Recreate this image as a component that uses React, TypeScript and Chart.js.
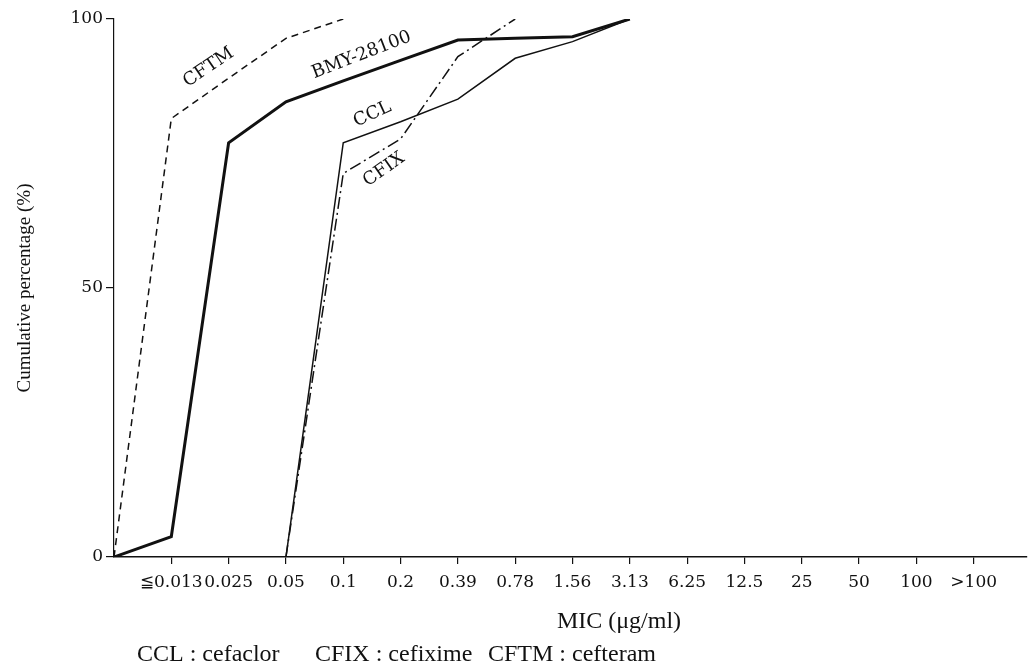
import React, { useEffect, useRef } from 'react';
import { Chart, registerables } from 'chart.js';

Chart.register(...registerables);

// MIC categories (index 0 = origin, unlabelled)
const categories: string[] = ['', '≦0.013', '0.025', '0.05', '0.1', '0.2', '0.39', '0.78', '1.56', '3.13', '6.25', '12.5', '25', '50', '100', '>100'];

// Cumulative percentage (%) per category
const bmy28100: (number | null)[] = [0, 3.8, 77.0, 84.6, 88.5, 92.3, 96.1, 96.4, 96.7, 100, null, null, null, null, null, null];
const cftm: (number | null)[] = [0, 81.5, 89.0, 96.4, 100, null, null, null, null, null, null, null, null, null, null, null];
const ccl: (number | null)[] = [null, null, null, 0, 77.0, 80.9, 85.1, 92.7, 95.8, 100, null, null, null, null, null, null];
const cfix: (number | null)[] = [null, null, null, 0, 71.3, 77.7, 93.0, 100, null, null, null, null, null, null, null, null];

const yTickValues: number[] = [0, 50, 100];

// Curve name labels (anchored in data coordinates)
const curveLabels = [
  { text: 'CFTM', x: 1.65, y: 91.0, angle: -34 },
  { text: 'BMY-28100', x: 4.32, y: 93.3, angle: -21 },
  { text: 'CCL', x: 4.51, y: 82.3, angle: -25 },
  { text: 'CFIX', x: 4.71, y: 72.0, angle: -35 },
];

const xTitle = 'MIC (μg/ml)';
const yTitle = 'Cumulative percentage (%)';
const noteParts = ['CCL : cefaclor', 'CFIX : cefixime', 'CFTM : cefteram'];

const toPoints = (arr: (number | null)[]) =>
  arr.map((v, i) => (v == null ? null : { x: i, y: v })).filter((p) => p !== null) as { x: number; y: number }[];

const INK = '#111';

const annotationPlugin = {
  id: 'annotations',
  afterDraw(chart: any) {
    const { ctx, chartArea, scales } = chart;
    const xs = scales.x;
    const ys = scales.y;
    ctx.save();
    ctx.fillStyle = INK;
    // curve labels
    ctx.font = '18px "DejaVu Serif"';
    ctx.textAlign = 'center';
    ctx.textBaseline = 'middle';
    curveLabels.forEach((l) => {
      const px = xs.getPixelForValue(l.x);
      const py = ys.getPixelForValue(l.y);
      ctx.save();
      ctx.translate(px, py);
      ctx.rotate((l.angle * Math.PI) / 180);
      ctx.fillText(l.text, 0, 0);
      ctx.restore();
    });
    // x title
    ctx.textBaseline = 'alphabetic';
    ctx.font = '24px "Liberation Serif"';
    ctx.textAlign = 'center';
    ctx.fillText(xTitle, chartArea.left + 505, chartArea.bottom + 71);
    // note
    ctx.textAlign = 'left';
    const startX = chartArea.left + 23;
    const noteY = chartArea.bottom + 104;
    const gaps = [0, 178, 351];
    noteParts.forEach((t, i) => ctx.fillText(t, startX + gaps[i], noteY));
    ctx.restore();
  },
};

export default function App() {
  const ref = useRef<HTMLCanvasElement | null>(null);
  useEffect(() => {
    if (!ref.current) return;
    const chart = new Chart(ref.current, {
      type: 'line',
      data: {
        datasets: [
          {
            label: 'BMY-28100',
            data: toPoints(bmy28100),
            borderColor: INK,
            borderWidth: 3,
            pointRadius: 0,
            tension: 0,
          },
          {
            label: 'CCL',
            data: toPoints(ccl),
            borderColor: INK,
            borderWidth: 1.5,
            pointRadius: 0,
            tension: 0,
          },
          {
            label: 'CFIX',
            data: toPoints(cfix),
            borderColor: INK,
            borderWidth: 1.5,
            borderDash: [12, 4, 2, 4],
            pointRadius: 0,
            tension: 0,
          },
          {
            label: 'CFTM',
            data: toPoints(cftm),
            borderColor: INK,
            borderWidth: 1.5,
            borderDash: [7, 5],
            pointRadius: 0,
            tension: 0,
          },
        ],
      },
      options: {
        animation: false,
        responsive: false,
        layout: { padding: { top: 19, right: 3, left: 0, bottom: 0 } },
        plugins: { legend: { display: false }, tooltip: { enabled: false } },
        scales: {
          x: {
            type: 'linear',
            min: 0,
            max: 15.93,
            afterBuildTicks: (scale: any) => {
              scale.ticks = categories.map((_, i) => ({ value: i })).filter((t) => t.value > 0);
            },
            afterFit: (scale: any) => {
              scale.height = 114;
            },
            border: { display: true, color: INK, width: 1.5 },
            grid: { drawOnChartArea: false, drawTicks: true, tickLength: 7, color: INK, lineWidth: 1.2 },
            ticks: {
              autoSkip: false,
              maxRotation: 0,
              padding: 8,
              color: INK,
              font: { family: '"DejaVu Serif"', size: 17 },
              callback: (v: any) => categories[Math.round(Number(v))] ?? '',
            },
          },
          y: {
            type: 'linear',
            min: 0,
            max: 100,
            afterBuildTicks: (scale: any) => {
              scale.ticks = yTickValues.map((v) => ({ value: v }));
            },
            afterFit: (scale: any) => {
              scale.width = 114;
            },
            border: { display: true, color: INK, width: 1.2 },
            grid: { drawOnChartArea: false, drawTicks: true, tickLength: 8, color: INK, lineWidth: 1.2 },
            ticks: {
              padding: 3,
              color: INK,
              font: { family: '"DejaVu Serif"', size: 17 },
            },
            title: {
              display: true,
              text: yTitle,
              color: INK,
              font: { family: '"Liberation Serif"', size: 19 },
              padding: { top: 14, bottom: 0 },
            },
          },
        },
      },
      plugins: [annotationPlugin],
    } as any);
    return () => chart.destroy();
  }, []);
  return (
    <div style={{ position: 'fixed', left: 0, top: 0, width: 1030, height: 671, background: '#fff' }}>
      <canvas ref={ref} width={1030} height={671} />
    </div>
  );
}
